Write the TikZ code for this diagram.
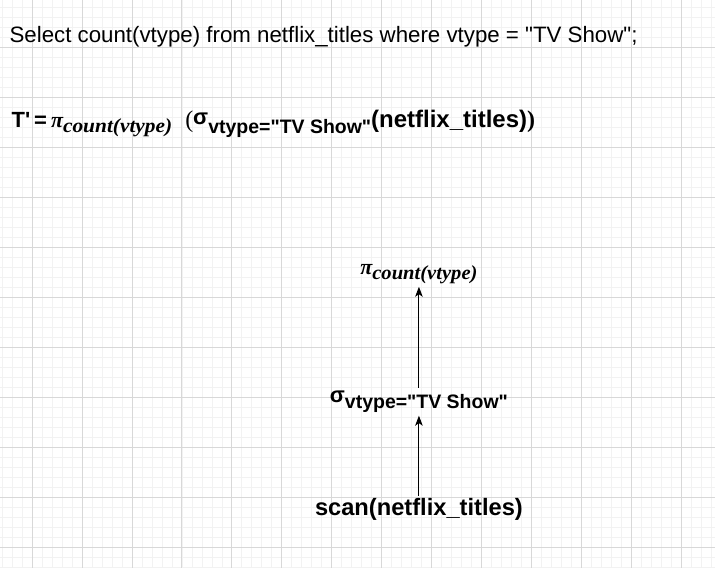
\documentclass[tikz,border=0pt]{standalone}
\usepackage{fontspec}
\usepackage{graphicx}
\setmainfont{Liberation Sans}
\newfontfamily\timesfont{Liberation Serif}
\usetikzlibrary{positioning,arrows.meta}
\definecolor{gridminor}{RGB}{242,242,242}
\definecolor{gridmajor}{RGB}{216,216,216}

% projection / selection symbols with lowered subscripts
\newcommand{\projop}[2]{{\timesfont\itshape π}\raisebox{-5pt}{\scalebox{#2}[1]{\timesfont\itshape\fontsize{20}{22}\selectfont #1}}}
\newcommand{\selop}[2]{\raisebox{#2}{σ}\raisebox{-6pt}{\fontsize{19.5}{22}\selectfont #1}}

\tikzset{
  sqlline/.style={anchor=base west, inner sep=0pt, font=\fontsize{22.3}{26}\selectfont},
  relline/.style={anchor=base west, inner sep=0pt, font=\bfseries\fontsize{22}{26}\selectfont},
  treeop/.style={inner sep=3pt, font=\bfseries\fontsize{22}{26}\selectfont},
  flow/.style={-{Stealth[length=10pt,width=7.5pt,inset=2.5pt]}, line width=1pt}
}

\begin{document}
\begin{tikzpicture}[x=1pt,y=-1pt]
    % grid background
    \fill[white] (0,0) rectangle (715,568);
    \foreach \gx in {0,...,71}
        \draw[gridminor, line width=0.7pt] (1.7+10*\gx,0) -- (1.7+10*\gx,568);
    \foreach \gy in {0,...,56}
        \draw[gridminor, line width=0.7pt] (0,7.3+10*\gy) -- (715,7.3+10*\gy);
    \foreach \gx in {0,...,13}
        \draw[gridmajor, line width=0.8pt] (31.7+50*\gx,0) -- (31.7+50*\gx,568);
    \foreach \gy in {0,...,10}
        \draw[gridmajor, line width=0.8pt] (0,47.3+50*\gy) -- (715,47.3+50*\gy);
    \useasboundingbox (0,0) rectangle (715,568);

    % query and relational expression
    \node[relline] (relexpr) at (11,127) {T\textquotesingle\hspace{4pt}=\hspace{4pt}\projop{count(vtype)}{1.07}\hspace{13pt}{\timesfont\mdseries\fontsize{24}{26}\selectfont(}\selop{vtype=\textquotedbl TV Show\textquotedbl}{3pt}{\fontsize{24}{26}\selectfont(netflix\_titles){\timesfont)}}};
    \node[sqlline] (query) at (9,41.7) {Select count(vtype) from netflix\_titles where vtype = \textquotedbl TV Show\textquotedbl;};

    % query tree
    \node[treeop, font=\bfseries\fontsize{23.7}{26}\selectfont] (scan) at (419,510) {scan(netflix\_titles)};
    \node[treeop, above=80pt of scan] (select) {\selop{vtype=\textquotedbl TV Show\textquotedbl}{0pt}};
    \node[treeop, above=101pt of select] (project) {\projop{count(vtype)}{1.03}};

    \draw[flow] (scan) -- (select);
    \draw[flow] (select) -- (project);
\end{tikzpicture}
\end{document}
